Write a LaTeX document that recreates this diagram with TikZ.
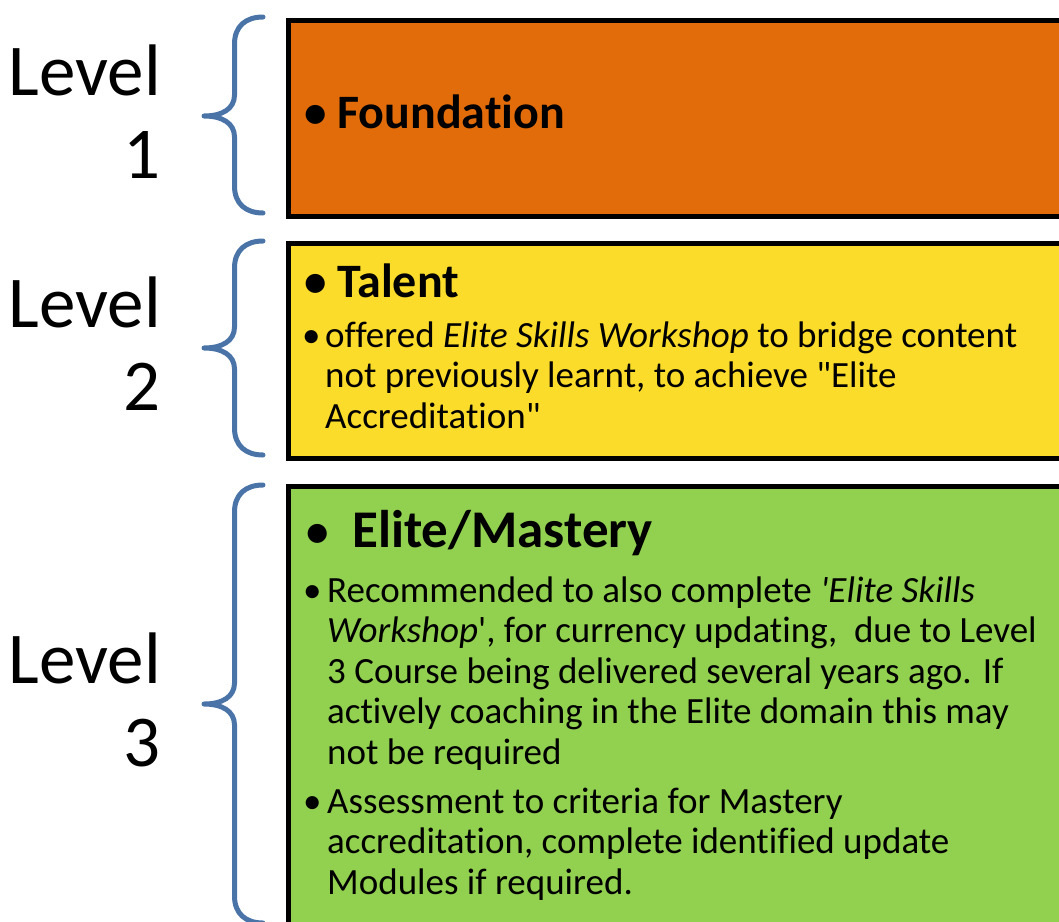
\documentclass[tikz,border=0pt]{standalone}
\usepackage{fontspec}
\setmainfont{Carlito}[Ligatures={TeXOff,NoCommon}]
\usepackage{array}
\definecolor{lvlorange}{HTML}{E36C0A}
\definecolor{lvlyellow}{HTML}{FBDC2A}
\definecolor{lvlgreen}{HTML}{92D050}
\definecolor{braceblue}{HTML}{4A74A8}
\tikzset{
  levelbox/.style={draw=black, line width=5pt, rectangle, inner sep=0pt, anchor=north west},
  bracestroke/.style={draw=braceblue, line width=5pt, line cap=round, line join=round},
  levellabel/.style={inner sep=0pt, anchor=base east, font=\fontsize{73}{83}\selectfont},
  headtext/.style={inner sep=0pt, anchor=base west, font=\bfseries},
  bodytext/.style={inner sep=0pt, anchor=base west, font=\fontsize{37}{40.6}\selectfont},
}
% bullet for the bold headings, set a little smaller than the heading itself
\newcommand\headbullet[1]{\makebox[#1][l]{\raisebox{1pt}{\fontsize{45}{45}\selectfont •}}}
% curly brace from top end T to bottom end B with its point at height M
\newcommand\levelbrace[3]{%
  \draw[bracestroke] (263,#1) .. controls (246,#1) and (234.5,#1+9) .. (234.5,#1+27)
    -- (234.5,#3-21) .. controls (234.5,#3-7) and (222,#3) .. (204,#3)
    .. controls (222,#3) and (234.5,#3+7) .. (234.5,#3+21)
    -- (234.5,#2-27) .. controls (234.5,#2-9) and (246,#2) .. (263,#2);}
\begin{document}
\begin{tikzpicture}[x=1pt,y=-1pt]
\useasboundingbox (0,0) rectangle (1059,921);
\clip (0,0) rectangle (1059,921);

% coloured level boxes (they run off the right and bottom edges)
\node[levelbox, fill=lvlorange, minimum width=900pt, minimum height=196pt] (box1) at (285.5,17.5) {};
\node[levelbox, fill=lvlyellow, minimum width=900pt, minimum height=215.5pt] (box2) at (285.5,240.5) {};
\node[levelbox, fill=lvlgreen, minimum width=900pt, minimum height=600pt] (box3) at (285.5,483.5) {};

% braces
\levelbrace{17}{213}{116}
\levelbrace{241}{455}{348}
\levelbrace{485}{923}{704}

% level labels
\node[levellabel] (lv1) at (161,95) {\begin{tabular}[t]{@{}r@{}}Level\\1\end{tabular}};
\node[levellabel] (lv2) at (161,327) {\begin{tabular}[t]{@{}r@{}}Level\\2\end{tabular}};
\node[levellabel] (lv3) at (161,683) {\begin{tabular}[t]{@{}r@{}}Level\\3\end{tabular}};

% level 1
\node[headtext, font=\bfseries\fontsize{48}{54}\selectfont] (h1) at (304,128)
  {\headbullet{33pt}Foundation};

% level 2
\node[headtext, font=\bfseries\fontsize{48}{54}\selectfont] (h2) at (304,297)
  {\headbullet{33pt}Talent};
\node[bodytext] (t2) at (302,347)
  {\begin{tabular}[t]{@{}p{23pt}@{}l@{}}
   • & offered \textit{Elite Skills Workshop} to bridge content\\
     & not previously learnt, to achieve "Elite\\
     & Accreditation"
   \end{tabular}};

% level 3
\node[headtext, font=\bfseries\fontsize{53}{60}\selectfont] (h3) at (306,547)
  {\headbullet{46pt}Elite/Mastery};
\node[bodytext] (t3a) at (303,602)
  {\begin{tabular}[t]{@{}p{24pt}@{}l@{}}
   • & Recommended to also complete \textit{'Elite Skills}\\
     & \textit{Workshop}', for currency updating,\ \ due to Level\\
     & 3 Course being delivered several years ago. If\\
     & actively coaching in the Elite domain this may\\
     & not be required
   \end{tabular}};
\node[bodytext] (t3b) at (303,813)
  {\begin{tabular}[t]{@{}p{24pt}@{}l@{}}
   • & Assessment to criteria for Mastery\\
     & accreditation, complete identified update\\
     & Modules if required.
   \end{tabular}};
\end{tikzpicture}
\end{document}
